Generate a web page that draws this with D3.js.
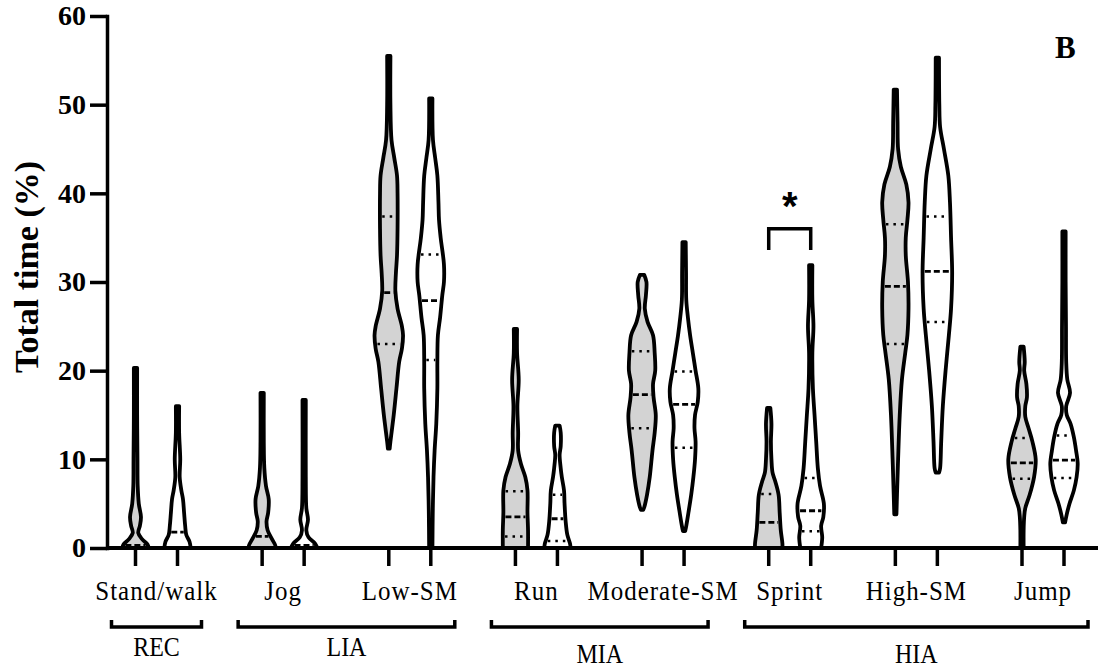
<!DOCTYPE html>
<html>
<head>
<meta charset="utf-8">
<style>
  body { margin: 0; background: #fff; }
  svg { display: block; font-family: "Liberation Serif", "Times New Roman", serif; }
  .y .tick text { font-family: "Liberation Serif", "Times New Roman", serif; font-size: 28px; font-weight: bold; fill: #000; }
  .y .tick line, .y .domain { stroke: #000; stroke-width: 3.5; }
</style>
</head>
<body>
<svg width="1119" height="671"></svg>
<script src="https://d3js.org/d3.v7.min.js"></script>
<script>
// categories on the x axis, two conditions each (grey fill, white fill)
const categories = ["Stand/walk", "Jog", "Low-SM", "Run", "Moderate-SM", "Sprint", "High-SM", "Jump"];
const conditions = ["first", "second"];
const yTicks = [0, 10, 20, 30, 40, 50, 60];

// intensity groups drawn under the category labels
const groups = [
  { name: "REC", from: "Stand/walk", to: "Stand/walk" },
  { name: "LIA", from: "Jog", to: "Low-SM" },
  { name: "MIA", from: "Run", to: "Moderate-SM" },
  { name: "HIA", from: "Sprint", to: "Jump" }
];

// [first, second] per category
const medians = [[0.3, 1.8], [1.3, 0.3], [28.8, 27.9], [3.5, 3.3], [17.3, 16.2], [2.9, 4.2], [29.5, 31.2], [9.6, 9.9]];
const q1s = [[null, null], [null, null], [23.0, 21.2], [1.3, 0.8], [13.5, 11.3], [null, 1.9], [23.0, 25.5], [7.8, 7.9]];
const q3s = [[null, null], [null, null], [37.4, 33.1], [6.4, 6.0], [22.2, 19.9], [6.1, 7.9], [36.5, 37.4], [12.4, 12.7]];

// violin outlines: [value, relative density], one per violin in category order
const profiles = [
  [[0,12],[0.4,11],[1,6],[1.7,2.5],[2.5,4],[3.5,5],[5,3],[7,2],[10,1.8],[15,1.5],[20.3,1.5]],
  [[0,12],[0.7,11],[1.5,8],[2.5,7],[4,6],[5.5,5],[6.5,3.5],[8,2],[10,2.5],[13,1.5],[16,1.5]],
  [[0,12],[0.3,12],[1,9],[2,5],[3,4],[4,5.5],[5.5,6],[7,3.5],[9,2],[12,1.5],[17.5,1.5]],
  [[0,12],[0.5,10],[1.2,4],[2,2],[3.2,3.5],[4.5,2],[8,1.5],[16.7,1.5]],
  [[11.2,0.8],[12,1.5],[15,4.5],[18,7],[21,9.5],[22.5,12],[24,13],[25,12],[27,8],[29,6],[31,6.5],[33,7.5],[36,8],[40,8],[42,7.5],[44,5],[46,2.5],[50,1.5],[55.5,1.5]],
  [[0,1.5],[4,1.8],[8,2.5],[11,3.5],[14,5],[18,6],[21,6],[24,6.5],[26,8.5],[28.5,10.5],[30,12],[32,12],[35,9],[37,7.5],[39,7],[42,6],[44,4],[46,2],[50.7,1.5]],
  [[0,11.5],[2,11.5],[4,11],[6.5,11],[8,9],[9.5,5],[11,2.5],[13,2.5],[16,1.8],[19,3],[22,1.5],[24.7,1.5]],
  [[0,12],[0.5,11.5],[1.5,9],[3,7.5],[5,6.5],[6.5,6],[8,4],[9,3],[10.5,2],[11.5,3],[13,3],[13.8,2]],
  [[4.3,1],[4.6,2],[6,4.5],[8,7],[11,9.5],[13,11.5],[15,12.5],[17,10.5],[18.5,10],[20,12],[22,11.5],[24,10],[25.5,5],[27,2.5],[28.5,3.5],[30,4],[30.8,2]],
  [[1.9,1],[2.5,2],[4,4],[6,6.5],[8,8.5],[10,10],[12,10.5],[13.5,9.5],[15,10],[16.5,12.5],[18,13],[20,10.5],[22,8],[24,5.5],[26,3.5],[28,2],[31,1.8],[34.5,1.5]],
  [[0,12.5],[0.5,12.5],[2,11],[4,10],[6,9],[7.5,6],[8.5,3.5],[10,2.5],[12,2],[14,2.5],[15.8,1.5]],
  [[0,9.5],[1.2,10.5],[2.5,9.5],[3.5,11.5],[5,12],[7,8.5],[9,6.5],[12,5],[15,3.5],[18,2],[22,1.5],[25,2.5],[28,1.5],[31.9,1.5]],
  [[3.8,1],[6,1.5],[10,2.5],[15,4],[19,6],[22,9],[24,11],[27,12],[30,11.5],[33,9.5],[35,9.5],[37,11],[39,12],[41,10],[43,5],[45,2.5],[48,2],[51.7,1.5]],
  [[8.5,1.5],[9,2.5],[12,3.5],[16,5],[20,7.5],[24,10.5],[27,12.5],[31,13.5],[35,12.5],[39,11.5],[42,10],[45,6],[47.5,2.5],[50,1.8],[55.3,1.5]],
  [[0,1.5],[2,1.5],[3.5,2],[4.5,3],[6,7],[8,11],[10,12.5],[12,9.5],[13.5,6],[14.8,3],[16,3],[17,4.5],[18.5,4],[20,2],[21,2.5],[22.7,1.5]],
  [[2.9,1],[3.8,2.5],[5,5],[6.5,9],[8,11.5],[9.5,12.5],[11,11],[12.5,9],[14,6],[15,2.5],[16,2],[17.5,5.5],[19,3],[21,2],[25,1.8],[30,1.5],[35.7,1.5]]
];

// significance between the two Sprint violins
const significance = [{ category: "Sprint", value: 36, label: "*" }];

const svg = d3.select("svg");
const margin = { left: 107, right: 1098, top: 16, bottom: 548 };

const y = d3.scaleLinear().domain([0, 60]).range([margin.bottom, margin.top]);
const x = d3.scalePoint().domain(categories).range([156.5, 1043]);
const dx = d3.scalePoint().domain(conditions).range([-21, 21]);
const w = d3.scaleLinear().domain([0, 13.5]).range([0, 14.8]);
const fills = { first: "#d3d3d3", second: "#ffffff" };

const violins = [];
categories.forEach((c, i) => {
  conditions.forEach((k, j) => {
    violins.push({
      cat: c, cond: k, cx: x(c) + dx(k),
      profile: profiles[i * 2 + j],
      median: medians[i][j], q1: q1s[i][j], q3: q3s[i][j]
    });
  });
});

const area = cx => d3.area()
  .y(d => y(d[0]))
  .x0(d => cx - w(d[1]))
  .x1(d => cx + w(d[1]))
  .curve(d3.curveCatmullRom.alpha(0.5));

const vg = svg.append("g");
violins.forEach(v => {
  vg.append("path")
    .attr("d", area(v.cx)(v.profile))
    .attr("fill", fills[v.cond])
    .attr("stroke", "#000")
    .attr("stroke-width", 3.8)
    .attr("stroke-linejoin", "round");

  const widthAt = d3.scaleLinear().domain(v.profile.map(d => d[0])).range(v.profile.map(d => d[1])).clamp(true);
  const lines = [
    { val: v.median, dash: "6,3", sw: 2.8 },
    { val: v.q1, dash: "2.5,5", sw: 2.5 },
    { val: v.q3, dash: "2.5,5", sw: 2.5 }
  ].filter(l => l.val != null);
  lines.forEach(l => {
    const hw = Math.max(w(widthAt(l.val)) - 2.2, 0);
    vg.append("line")
      .attr("x1", v.cx - hw).attr("x2", v.cx + hw)
      .attr("y1", y(l.val)).attr("y2", y(l.val))
      .attr("stroke", "#000")
      .attr("stroke-width", l.sw)
      .attr("stroke-dasharray", l.dash);
  });
});

// y axis
svg.append("g")
  .attr("class", "y")
  .attr("transform", `translate(${margin.left},0)`)
  .call(d3.axisLeft(y).tickValues(yTicks).tickSize(17).tickSizeOuter(0).tickPadding(4))
  .call(g => g.select(".domain").attr("stroke-linecap", "square"));

// x axis line and ticks
svg.append("line")
  .attr("x1", margin.left).attr("x2", margin.right)
  .attr("y1", margin.bottom).attr("y2", margin.bottom)
  .attr("stroke", "#000").attr("stroke-width", 3.8);

svg.append("g")
  .selectAll("line")
  .data(violins)
  .join("line")
  .attr("x1", d => d.cx).attr("x2", d => d.cx)
  .attr("y1", margin.bottom).attr("y2", margin.bottom + 18)
  .attr("stroke", "#000").attr("stroke-width", 3.5);

svg.append("g")
  .selectAll("text")
  .data(categories)
  .join("text")
  .attr("transform", d => `translate(${x(d)},600) scale(1,1.12)`)
  .attr("text-anchor", "middle")
  .style("font-size", "25px")
  .style("letter-spacing", "1px")
  .text(d => d);

// group brackets
const pad = 45;
const gg = svg.append("g");
groups.forEach(g => {
  const x1 = x(g.from) - pad, x2 = x(g.to) + pad;
  gg.append("path")
    .attr("d", `M${x1},620V627H${x2}V620`)
    .attr("fill", "none").attr("stroke", "#000").attr("stroke-width", 3.5);
  const low = g.name === "MIA" || g.name === "HIA";
  gg.append("text")
    .attr("transform", `translate(${(x1 + x2) / 2},${low ? 663 : 656}) scale(1,1.12)`)
    .attr("text-anchor", "middle")
    .style("font-size", "24px")
    .text(g.name);
});

// y title
svg.append("text")
  .attr("transform", `translate(38,267) rotate(-90)`)
  .attr("text-anchor", "middle")
  .style("font-size", "34px")
  .style("font-weight", "bold")
  .text("Total time (%)");

// panel letter
svg.append("text")
  .attr("x", 1055).attr("y", 58)
  .style("font-size", "31px")
  .style("font-weight", "bold")
  .text("B");

// significance bracket
significance.forEach(s => {
  const xa = x(s.category) + dx("first"), xb = x(s.category) + dx("second");
  svg.append("path")
    .attr("d", `M${xa},${y(s.value - 2.4)}V${y(s.value)}H${xb}V${y(s.value - 2.4)}`)
    .attr("fill", "none").attr("stroke", "#000").attr("stroke-width", 3.5);
  svg.append("text")
    .attr("x", (xa + xb) / 2).attr("y", y(s.value) - 9)
    .attr("text-anchor", "middle")
    .style("font-family", "'Liberation Sans', Arial, sans-serif")
    .style("font-size", "40px")
    .style("font-weight", "bold")
    .text(s.label);
});
</script>
</body>
</html>
